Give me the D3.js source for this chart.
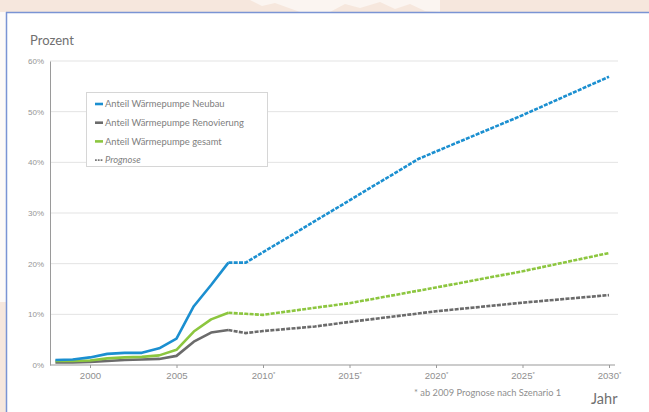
<!DOCTYPE html>
<html><head><meta charset="utf-8">
<script src="https://cdn.jsdelivr.net/npm/d3@7"></script>
<style>
html,body{margin:0;padding:0;background:#fff;}
svg{display:block;font-family:Lato,"Open Sans",sans-serif;}
</style></head>
<body>
<svg id="chart" width="649" height="412"></svg>
<script>
// ---- data ----
const yearsNeubau = [1998,1999,2000,2001,2002,2003,2004,2005,2006,2007,2008,2009,2015,2019,2025,2030];
const neubau      = [1.0, 1.1, 1.5, 2.2, 2.4, 2.4, 3.3, 5.2, 11.6,15.8,20.2,20.2,32.5,40.7,49.3,56.9];
const yearsGesamt = [1998,1999,2000,2001,2002,2003,2004,2005,2006,2007,2008,2009,2010,2013,2015,2020,2025,2030];
const gesamt      = [0.8, 0.8, 0.9, 1.3, 1.5, 1.6, 1.9, 3.0, 6.6, 9.0, 10.3,10.1,9.9, 11.3,12.2,15.3,18.5,22.1];
const yearsReno   = [1998,1999,2000,2001,2002,2003,2004,2005,2006,2007,2008,2009,2010,2013,2015,2020,2025,2030];
const renovierung = [0.5, 0.5, 0.6, 0.8, 1.0, 1.1, 1.2, 1.8, 4.6, 6.4, 6.9, 6.3, 6.7, 7.6, 8.5, 10.6,12.3,13.8];
const prognoseStart = 2008;
const xTicks = [2000,2005,2010,2015,2020,2025,2030];
const xTickLabels = ["2000","2005","2010*","2015*","2020*","2025*","2030*"];
const yTicks = [0,10,20,30,40,50,60];
const yTickLabels = ["0%","10%","20%","30%","40%","50%","60%"];
const legendLabels = ["Anteil Wärmepumpe Neubau","Anteil Wärmepumpe Renovierung","Anteil Wärmepumpe gesamt","Prognose"];
const colors = {neubau:"#1b8fd0", reno:"#6b6b6b", gesamt:"#8cc63f", prog:"#777"};

const svg = d3.select("#chart");

// background decoration
svg.append("rect").attr("x",0).attr("y",0).attr("width",649).attr("height",412).attr("fill","#f6e7dd");
svg.append("path").attr("fill","#fbf5f1")
  .attr("d","M250,0 L262,6 L275,3 L300,12 L330,12 L345,4 L360,8 L380,2 L395,9 L410,4 L425,11 L440,12 L440,0 Z");
svg.append("rect").attr("x",0).attr("y",12).attr("width",6).attr("height",290).attr("fill","#fdfaf8");
svg.append("rect").attr("x",6).attr("y",12).attr("width",649).attr("height",412).attr("fill","#fff");
svg.append("line").attr("x1",6).attr("x2",649).attr("y1",12.5).attr("y2",12.5).attr("stroke","#7a94d4").attr("stroke-width",1.5);
svg.append("line").attr("x1",6.5).attr("x2",6.5).attr("y1",12).attr("y2",412).attr("stroke","#7a94d4").attr("stroke-width",1.5);

const x = d3.scaleLinear().domain([2000,2030]).range([90,609]);
const y = d3.scaleLinear().domain([0,60]).range([365,61]);

// gridlines
svg.append("g").selectAll("line").data(yTicks.filter(d=>d>0)).join("line")
  .attr("x1",50).attr("x2",618).attr("y1",d=>y(d)).attr("y2",d=>y(d))
  .attr("stroke","#e3e3e3").attr("stroke-width",1);

// y axis
const yAxis = d3.axisLeft(y).tickValues(yTicks).tickSize(0).tickPadding(6)
  .tickFormat((d,i)=>yTickLabels[i]);
const gy = svg.append("g").attr("transform","translate(50,0)").call(yAxis);
gy.select(".domain").attr("stroke","#9a9a9a").attr("stroke-width",1);
gy.selectAll("text").attr("fill","#959595").style("font-size","8px");

// x axis
const xAxis = d3.axisBottom(x).tickValues(xTicks).tickSize(3).tickPadding(4)
  .tickFormat((d,i)=>xTickLabels[i]);
const gx = svg.append("g").attr("transform","translate(0,365)").call(xAxis);
gx.select(".domain").attr("d","M50,0H615").attr("stroke","#9a9a9a").attr("stroke-width",1.2);
gx.selectAll(".tick line").attr("stroke","#9a9a9a");
gx.selectAll("text").attr("fill","#8f8f8f").style("font-size","9.6px")
  .each(function(d,i){
    const t = d3.select(this); const lab = xTickLabels[i];
    if(lab.endsWith("*")){
      t.text(lab.slice(0,-1));
      t.append("tspan").attr("dy","-3").style("font-size","6px").text("*");
    }
  });

// lines
const line = d3.line().x(d=>x(d[0])).y(d=>y(d[1]));
function drawSeries(years, vals, color){
  const pts = years.map((yr,i)=>[yr,vals[i]]);
  svg.append("path").datum(pts.filter(p=>p[0]<=prognoseStart))
    .attr("d",line).attr("fill","none").attr("stroke",color).attr("stroke-width",2.6)
    .attr("stroke-linejoin","round");
  svg.append("path").datum(pts.filter(p=>p[0]>=prognoseStart))
    .attr("d",line).attr("fill","none").attr("stroke",color).attr("stroke-width",2.6)
    .attr("stroke-dasharray","4,1.3");
}
drawSeries(yearsReno, renovierung, colors.reno);
drawSeries(yearsGesamt, gesamt, colors.gesamt);
drawSeries(yearsNeubau, neubau, colors.neubau);

// legend
const lg = svg.append("g");
lg.append("rect").attr("x",86.5).attr("y",92.5).attr("width",181).attr("height",74)
  .attr("fill","#fff").attr("stroke","#d6d6d6");
const lcol = [colors.neubau, colors.reno, colors.gesamt, colors.prog];
legendLabels.forEach((t,i)=>{
  const yy = 104 + i*18.7;
  lg.append("line").attr("x1",95).attr("x2",103).attr("y1",yy).attr("y2",yy)
    .attr("stroke",lcol[i]).attr("stroke-width",i===3?1.8:2.6)
    .attr("stroke-dasharray",i===3?"1.8,1":null);
  lg.append("text").attr("x",105).attr("y",yy+3.2).text(t)
    .attr("fill","#808080").style("font-size","9.4px")
    .style("font-style",i===3?"italic":"normal");
});

// titles
svg.append("text").attr("x",30).attr("y",45).text("Prozent").attr("fill","#707070").style("font-size","13px");
svg.append("text").attr("x",591).attr("y",404).text("Jahr").attr("fill","#707070").style("font-size","14.5px");
svg.append("text").attr("x",414).attr("y",396).text("* ab 2009 Prognose nach Szenario 1").attr("fill","#8f8f8f").style("font-size","9.3px");
</script>
</body></html>
